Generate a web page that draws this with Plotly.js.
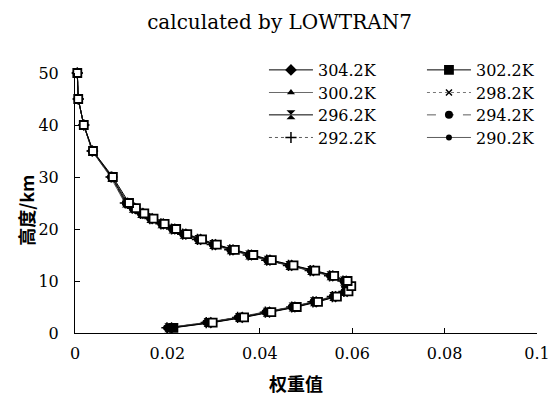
<!DOCTYPE html>
<html>
<head>
<meta charset="utf-8">
<script src="https://cdn.plot.ly/plotly-3.0.1.min.js"></script>
<style>
  html, body { margin: 0; padding: 0; background: #fff; }
  #chart { width: 559px; height: 398px; }
</style>
</head>
<body>
<div id="chart"></div>
<script>
// Altitude grid of the weighting functions (km)
const heights = [1, 2, 3, 4, 5, 6, 7, 8, 9, 10, 11, 12, 13, 14, 15, 16, 17, 18, 19, 20,
                 21, 22, 23, 24, 25, 30, 35, 40, 45, 50];

// Surface-temperature cases
const seriesNames = ['304.2K', '302.2K', '300.2K', '298.2K', '296.2K', '294.2K', '292.2K', '290.2K'];

// Weighting-function values for each surface temperature
const w304 = [0.0209,0.0294,0.0362,0.0421,0.0476,0.0522,0.0564,0.0589,0.0595,0.0587,0.0558,0.0516,0.0469,0.0422,0.0382,0.0342,0.0304,0.0272,0.0240,0.0216,0.0191,0.0167,0.0147,0.0129,0.0114,0.0080,0.0038,0.0019,0.0007,0.0005];
const w302 = [0.0213,0.0298,0.0366,0.0425,0.0480,0.0526,0.0567,0.0592,0.0598,0.0590,0.0561,0.0520,0.0473,0.0426,0.0386,0.0346,0.0307,0.0275,0.0243,0.0219,0.0194,0.0170,0.0150,0.0132,0.0117,0.0082,0.0039,0.0019,0.0007,0.0005];
const w300 = [0.0207,0.0292,0.0360,0.0420,0.0475,0.0521,0.0563,0.0588,0.0594,0.0586,0.0557,0.0515,0.0468,0.0421,0.0381,0.0341,0.0303,0.0271,0.0239,0.0215,0.0190,0.0166,0.0146,0.0128,0.0113,0.0080,0.0038,0.0019,0.0007,0.0005];
const w298 = [0.0205,0.0290,0.0358,0.0418,0.0474,0.0520,0.0562,0.0587,0.0593,0.0585,0.0556,0.0514,0.0467,0.0420,0.0380,0.0340,0.0302,0.0270,0.0238,0.0214,0.0189,0.0165,0.0145,0.0127,0.0112,0.0079,0.0038,0.0019,0.0007,0.0005];
const w296 = [0.0203,0.0288,0.0356,0.0416,0.0472,0.0518,0.0560,0.0585,0.0591,0.0583,0.0554,0.0512,0.0465,0.0418,0.0378,0.0338,0.0300,0.0268,0.0236,0.0212,0.0188,0.0164,0.0144,0.0126,0.0111,0.0079,0.0038,0.0019,0.0007,0.0005];
const w294 = [0.0201,0.0286,0.0354,0.0414,0.0470,0.0517,0.0559,0.0584,0.0590,0.0582,0.0553,0.0511,0.0464,0.0417,0.0377,0.0337,0.0299,0.0267,0.0235,0.0211,0.0187,0.0163,0.0143,0.0125,0.0110,0.0078,0.0037,0.0019,0.0007,0.0005];
const w292 = [0.0199,0.0284,0.0352,0.0412,0.0469,0.0515,0.0557,0.0582,0.0588,0.0580,0.0551,0.0509,0.0462,0.0415,0.0375,0.0335,0.0297,0.0265,0.0233,0.0209,0.0186,0.0162,0.0142,0.0124,0.0109,0.0078,0.0037,0.0019,0.0007,0.0005];
const w290 = [0.0197,0.0282,0.0350,0.0410,0.0467,0.0514,0.0556,0.0581,0.0587,0.0579,0.0550,0.0508,0.0461,0.0414,0.0374,0.0334,0.0296,0.0264,0.0232,0.0208,0.0185,0.0161,0.0141,0.0123,0.0108,0.0077,0.0037,0.0019,0.0007,0.0005];

// Axis ticks
const xTicks = [0, 0.02, 0.04, 0.06, 0.08, 0.1];
const xTickText = ['0', '0.02', '0.04', '0.06', '0.08', '0.1'];
const yTicks = [0, 10, 20, 30, 40, 50];

const serif = 'DejaVu Serif, serif';
const cjk = 'Noto Sans CJK SC, sans-serif';

function trace(name, xs, legend, lineStyle, marker) {
  return {
    type: 'scatter', mode: 'lines+markers',
    name: name, x: xs, y: heights,
    legend: legend,
    line: Object.assign({ color: '#000', width: 0.8 }, lineStyle),
    marker: marker,
    cliponaxis: false
  };
}

// Open squares: the lowest point sits inside a dark cluster, so it is filled
const squareFill = heights.map((h, i) => (i === 0 ? '#000' : '#fff'));

// Filled markers first; the open square is drawn on top
const data = [
  trace(seriesNames[0], w304, 'legend',  { dash: 'solid', width: 1 }, { symbol: 'diamond', size: 9, color: '#000' }),
  trace(seriesNames[2], w300, 'legend3', { dash: 'solid', color: '#444' }, { symbol: 'triangle-up', size: 7, color: '#000' }),
  trace(seriesNames[3], w298, 'legend4', { dash: 'dot', color: '#555' }, { symbol: 'x-thin-open', size: 6, color: '#000', line: { width: 1.5, color: '#000' } }),
  trace(seriesNames[4], w296, 'legend5', { dash: 'solid', width: 1 }, { symbol: 'hourglass', size: 9, color: '#000' }),
  trace(seriesNames[5], w294, 'legend6', { dash: 'dash', color: '#333' }, { symbol: 'circle', size: 8, color: '#000' }),
  trace(seriesNames[6], w292, 'legend7', { dash: 'dot', color: '#333' }, { symbol: 'cross-thin-open', size: 8, color: '#000', line: { width: 1.5, color: '#000' } }),
  trace(seriesNames[7], w290, 'legend8', { dash: 'solid', color: '#333' }, { symbol: 'circle', size: 6, color: '#000' }),
  trace(seriesNames[1], w302, 'legend2', { dash: 'solid', width: 1 }, { symbol: 'square', size: 8, color: squareFill, line: { width: 1.8, color: '#000' } })
];

// One legend per entry, laid out as two columns of four
const rowY = [1.077, 0.990, 0.904, 0.817];
const colX = [0.409, 0.751];
function legendAt(col, row) {
  return {
    x: colX[col], y: rowY[row], xanchor: 'left', yanchor: 'top',
    bgcolor: 'rgba(0,0,0,0)',
    font: { family: serif, size: 16, color: '#000' },
    itemwidth: 44
  };
}

const layout = {
  width: 559, height: 398,
  paper_bgcolor: '#fff', plot_bgcolor: '#fff',
  margin: { l: 75, r: 22, t: 73, b: 65 },
  showlegend: true,
  title: {
    text: 'calculated by LOWTRAN7',
    font: { family: serif, size: 20, color: '#000' },
    x: 0.5, xref: 'container', xanchor: 'center',
    y: 0.945, yref: 'container', yanchor: 'middle'
  },
  xaxis: {
    range: [0, 0.1], tickvals: xTicks, ticktext: xTickText,
    ticks: 'inside', ticklen: 5, tickcolor: '#000',
    showline: true, linecolor: '#000', linewidth: 1,
    showgrid: false, zeroline: false,
    tickfont: { family: serif, size: 16, color: '#000' },
    ticklabelstandoff: 6
  },
  yaxis: {
    range: [0, 50], tickvals: yTicks,
    ticks: 'inside', ticklen: 5, tickcolor: '#000',
    showline: true, linecolor: '#000', linewidth: 1,
    showgrid: false, zeroline: false,
    tickfont: { family: serif, size: 16, color: '#000' },
    ticklabelstandoff: 12
  },
  // Axis titles placed as annotations for exact positioning
  annotations: [
    { text: '权重值', xref: 'paper', yref: 'paper', x: 0.478, y: -0.192,
      xanchor: 'center', yanchor: 'middle', showarrow: false,
      font: { family: cjk, size: 18, color: '#000', weight: 'bold' } },
    { text: '高度/km', xref: 'paper', yref: 'paper', x: -0.106, y: 0.47,
      xanchor: 'center', yanchor: 'middle', showarrow: false, textangle: -90,
      font: { family: cjk, size: 18, color: '#000', weight: 'bold' } }
  ],
  legend:  legendAt(0, 0),
  legend2: legendAt(1, 0),
  legend3: legendAt(0, 1),
  legend4: legendAt(1, 1),
  legend5: legendAt(0, 2),
  legend6: legendAt(1, 2),
  legend7: legendAt(0, 3),
  legend8: legendAt(1, 3)
};

Plotly.newPlot('chart', data, layout, { displayModeBar: false, staticPlot: true });
</script>
</body>
</html>
